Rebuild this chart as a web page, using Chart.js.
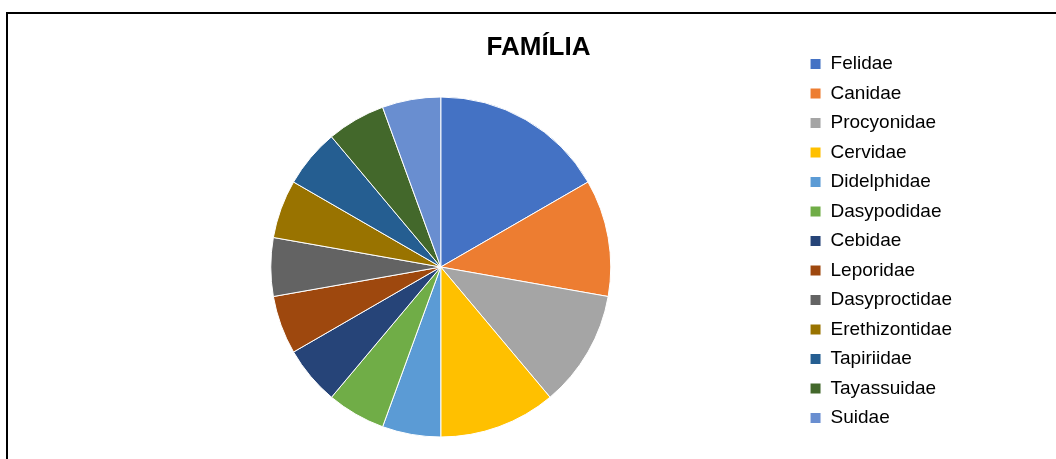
<!DOCTYPE html>
<html>
<head>
<meta charset="utf-8">
<title>FAMÍLIA</title>
<script src="https://cdn.jsdelivr.net/npm/chart.js@4"></script>
<style>
  html, body { margin: 0; padding: 0; background: #fff; overflow: hidden; }
  /* chart frame, only left and top edges are visible in the crop */
  .frame { position: absolute; left: 6px; top: 12px; width: 1060px; height: 460px;
           border-left: 2px solid #000; border-top: 2px solid #000; }
  #chart { position: absolute; left: 0; top: 0; }
</style>
</head>
<body>
<div class="frame">
  <canvas id="chart" width="987" height="445"></canvas>
</div>
<script>
const familias = ['Felidae', 'Canidae', 'Procyonidae', 'Cervidae', 'Didelphidae', 'Dasypodidae',
  'Cebidae', 'Leporidae', 'Dasyproctidae', 'Erethizontidae', 'Tapiriidae', 'Tayassuidae', 'Suidae'];
const registros = [3, 2, 2, 2, 1, 1, 1, 1, 1, 1, 1, 1, 1];
const cores = ['#4472C4', '#ED7D31', '#A5A5A5', '#FFC000', '#5B9BD5', '#70AD47',
  '#264478', '#9E480E', '#636363', '#997300', '#255E91', '#43682B', '#698ED0'];

const FONT = 'Arial, "Liberation Sans", sans-serif';

// empty box on the far right so the title is centred on the whole frame, not on pie + legend
const rightSpacer = {
  id: 'rightSpacer',
  beforeInit(chart) {
    Chart.layouts.addBox(chart, {
      position: 'right',
      weight: 2000,
      fullSize: true,
      options: {},
      isHorizontal() { return false; },
      update(maxWidth, maxHeight) { this.width = 33; this.height = maxHeight; },
      draw() {}
    });
  }
};

new Chart(document.getElementById('chart'), {
  type: 'pie',
  data: {
    labels: familias,
    datasets: [{
      data: registros,
      backgroundColor: cores,
      borderColor: '#ffffff',
      borderWidth: 1
    }]
  },
  options: {
    responsive: false,
    animation: false,
    radius: 170,
    events: [],
    layout: { padding: { top: 9, bottom: 0, left: 74, right: 0 } },
    plugins: {
      title: {
        display: true,
        text: 'FAMÍLIA',
        color: '#000',
        font: { family: FONT, size: 26, weight: 'bold', lineHeight: 1.2 },
        padding: { top: 9.6, bottom: 11.2 }
      },
      legend: {
        position: 'right',
        labels: {
          color: '#000',
          font: { family: FONT, size: 19 },
          boxWidth: 11,
          boxHeight: 11,
          padding: 10.5
        }
      },
      tooltip: { enabled: false }
    }
  },
  plugins: [rightSpacer]
});
</script>
</body>
</html>
